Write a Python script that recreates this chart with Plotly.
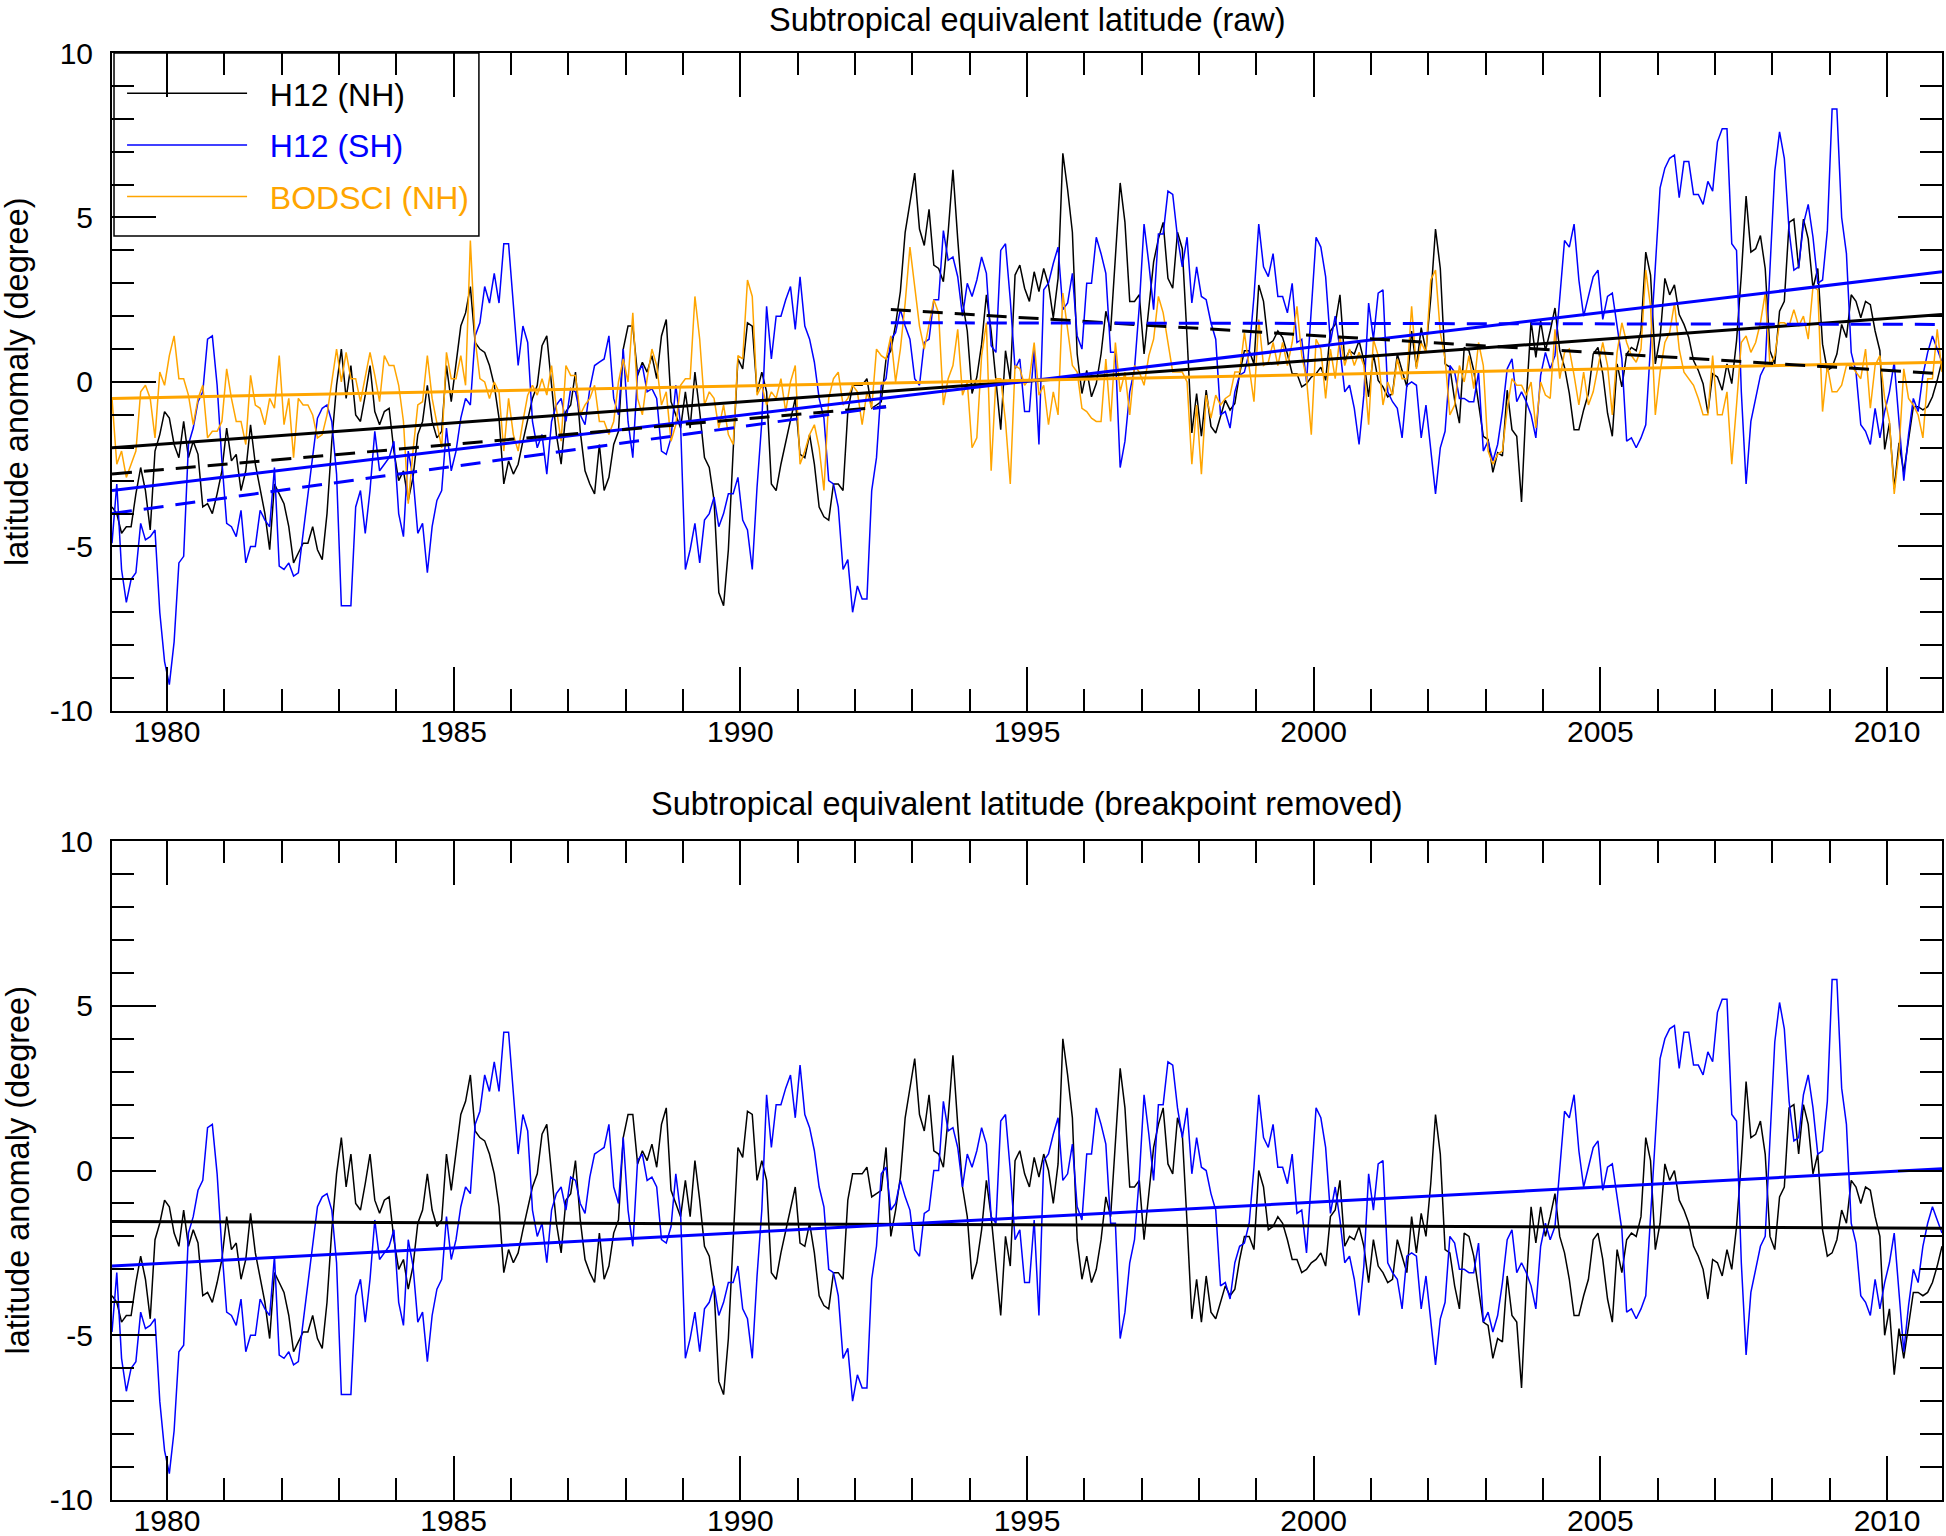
import numpy as np
import plotly.graph_objects as go

FONT = "Liberation Sans, Arial, Helvetica, sans-serif"

# ---------------- data (monthly, Jan 1979 - Dec 2010) ----------------
START_YEAR = 1979
BREAK_INDEX = 163          # first month after the 1992 breakpoint
NH_SHIFT = 2.95            # breakpoint jump, H12 (NH)
SH_SHIFT = 2.5             # breakpoint jump, H12 (SH)

# H12 (NH), breakpoint removed
h12_nh_bp = [
    -3.8, -4.0, -4.6, -4.4, -4.4, -3.4, -2.6, -3.3, -4.5, -2.1,
    -1.6, -0.9, -1.1, -1.9, -2.3, -1.2, -2.3, -1.8, -2.2, -3.8,
    -3.7, -4.0, -3.4, -2.7, -1.4, -2.4, -2.2, -3.3, -2.7, -1.3,
    -2.5, -3.2, -4.0, -5.1, -3.1, -3.4, -3.7, -4.4, -5.5, -5.2,
    -4.9, -4.9, -4.4, -5.1, -5.4, -4.0, -1.8, -0.1, 1.0, -0.5,
    0.5, -1.0, -1.2, -0.4, 0.5, -0.9, -1.3, -0.9, -0.8, -2.1,
    -3.0, -2.7, -3.6, -2.9, -1.6, -1.2, -0.1, -1.2, -1.7, -1.5,
    0.5, -0.6, 0.5, 1.7, 2.1, 2.9, 1.2, 1.0, 0.9, 0.5,
    -0.1, -1.1, -3.1, -2.4, -2.8, -2.5, -1.8, -1.1, -0.5, -0.1,
    1.1, 1.4, -0.2, -1.6, -2.5, -0.9, -0.7, 0.3, -1.5, -2.7,
    -3.1, -3.4, -1.9, -3.3, -2.9, -1.9, -1.5, 1.0, 1.7, 1.7,
    0.2, 0.6, 0.3, 0.8, 0.1, 1.4, 1.9, -0.6, -1.0, -1.4,
    -0.3, -1.4, 0.3, -0.9, -2.3, -2.6, -3.6, -6.4, -6.8, -5.1,
    -2.1, 0.7, 0.4, 1.8, 1.7, -0.3, 0.3, -0.3, -3.1, -3.3,
    -2.5, -1.8, -1.2, -0.5, -2.2, -2.3, -1.6, -2.5, -3.8, -4.1,
    -4.2, -3.1, -3.1, -3.3, -0.9, -0.1, -0.1, -0.1, 0.1, -0.8,
    -0.7, -0.6, 0.7, -2.0, -1.2, -0.2, 1.6, 2.5, 3.4, 1.7,
    1.2, 2.3, 0.6, 0.5, 0.1, 1.6, 3.5, 1.4, -0.5, -1.4,
    -3.3, -2.8, -1.8, -0.3, -1.4, -2.9, -4.4, -2.0, -2.9, 0.3,
    0.6, -0.1, -0.5, 0.4, -0.2, 0.5, 0.0, -1.0, 0.2, 4.0,
    2.9, 1.6, -2.1, -3.3, -2.6, -3.4, -3.0, -2.1, -0.8, -1.4,
    0.7, 3.1, 1.9, -0.5, -0.5, -0.3, -2.1, -0.7, 0.7, 1.4,
    1.9, 0.2, -0.1, 1.6, 1.1, -1.6, -4.5, -3.3, -4.6, -3.2,
    -4.3, -4.5, -4.0, -3.5, -3.8, -3.6, -2.7, -2.0, -2.0, -2.4,
    0.0, -0.5, -1.8, -1.7, -1.4, -1.6, -2.1, -2.7, -2.7, -3.1,
    -3.0, -2.8, -2.7, -2.5, -2.9, -1.4, -1.2, -0.3, -2.3, -2.0,
    -2.1, -1.7, -2.3, -3.4, -2.1, -2.9, -3.1, -3.4, -3.3, -2.1,
    -2.6, -3.1, -1.4, -2.5, -1.3, -2.0, -0.4, 1.7, 0.5, -2.4,
    -2.5, -3.5, -4.2, -1.9, -2.0, -2.6, -3.6, -4.6, -4.7, -5.7,
    -5.1, -5.2, -3.2, -4.4, -4.6, -6.6, -3.5, -1.1, -2.2, -1.1,
    -2.0, -1.4, -0.7, -2.0, -2.5, -3.3, -4.4, -4.4, -3.8, -3.3,
    -2.1, -1.9, -2.7, -3.9, -4.6, -2.4, -3.1, -2.1, -1.9, -2.0,
    -1.4, 1.0, 0.3, -2.4, -1.6, 0.2, -0.3, 0.0, -0.9, -1.2,
    -1.6, -2.3, -2.6, -3.0, -3.9, -2.7, -2.8, -3.2, -2.4, -3.0,
    -1.7, 0.3, 2.7, 1.0, 1.1, 1.5, 0.5, -2.0, -2.4, -0.8,
    -0.5, 1.9, 2.0, 0.5, 2.0, 1.4, -0.1, 0.5, -1.8, -2.6,
    -2.5, -2.1, -1.2, -1.6, -0.3, -0.5, -1.0, -0.5, -0.6, -1.4,
    -2.0, -5.0, -4.2, -6.2, -4.8, -5.7, -4.7, -3.7, -3.7, -3.8,
    -3.7, -3.4, -2.9, -2.3,
]

# H12 (SH), breakpoint removed
h12_sh_bp = [
    -4.9, -3.1, -5.7, -6.7, -6.0, -5.8, -4.3, -4.8, -4.7, -4.5,
    -7.0, -8.5, -9.2, -7.9, -5.5, -5.3, -1.9, -1.4, -0.6, -0.3,
    1.3, 1.4, -0.1, -2.4, -4.3, -4.4, -4.7, -3.9, -5.5, -5.0,
    -5.0, -3.9, -4.2, -4.4, -2.6, -5.6, -5.7, -5.5, -5.9, -5.8,
    -4.6, -3.4, -2.2, -1.1, -0.8, -0.7, -1.2, -2.8, -6.8, -6.8,
    -6.8, -3.8, -3.3, -4.6, -3.3, -1.5, -2.7, -2.5, -2.3, -1.8,
    -4.0, -4.7, -2.1, -2.9, -4.6, -4.3, -5.8, -4.4, -3.6, -3.3,
    -1.4, -2.7, -2.1, -1.1, -0.5, -0.7, 1.4, 1.8, 2.9, 2.4,
    3.3, 2.4, 4.2, 4.2, 2.4, 0.5, 1.7, 1.2, -1.2, -2.0,
    -1.6, -2.8, -1.2, -0.7, -0.5, -1.2, -0.2, -0.3, -1.0, -1.3,
    -0.2, 0.5, 0.6, 0.7, 1.4, -0.5, -1.0, 1.0, -1.2, -2.3,
    0.3, 0.5, -0.3, -0.2, -0.5, -2.1, -2.2, -1.7, -0.1, -1.3,
    -5.7, -5.1, -4.3, -5.5, -4.2, -4.0, -3.5, -4.4, -4.0, -3.4,
    -3.4, -2.9, -4.2, -4.5, -5.7, -3.2, -1.2, 2.3, 0.7, 2.0,
    2.0, 2.5, 2.9, 1.6, 3.2, 1.7, 1.3, 0.6, -0.5, -1.1,
    -3.0, -3.1, -3.8, -5.7, -5.4, -7.0, -6.2, -6.6, -6.6, -3.3,
    -2.3, -0.1, 0.1, -1.2, -1.0, -0.3, -0.8, -1.2, -2.4, -2.6,
    -1.3, -1.2, 0.0, 0.0, 2.1, 1.2, 1.3, 0.7, -0.5, 0.5,
    0.1, 0.6, 1.3, 0.8, -1.4, -1.6, 1.5, 1.7, 0.0, -2.1,
    -1.8, -3.4, -3.4, -1.5, -4.4, 0.3, 0.5, 1.1, 1.6, -0.3,
    -0.1, 0.8, -1.1, -1.5, 0.5, 0.5, 1.9, 1.4, 0.8, -1.6,
    -1.6, -5.1, -4.3, -2.8, -2.1, -0.2, 2.3, 1.1, -0.3, 2.0,
    2.0, 3.3, 3.2, 1.9, 1.0, 1.9, -0.1, 1.0, 0.1, 0.0,
    -0.7, -1.2, -3.5, -3.4, -3.9, -2.8, -2.3, -2.2, -1.6, 0.1,
    2.3, 1.0, 0.7, 1.4, 0.1, 0.1, -0.4, 0.5, -1.3, -1.2,
    -2.5, -0.2, 1.9, 1.6, 0.7, -1.3, -0.5, -1.5, -2.8, -2.6,
    -3.3, -4.4, -2.9, -0.1, -1.2, 0.2, 0.3, -2.8, -3.1, -3.3,
    -4.2, -2.6, -2.5, -2.6, -4.2, -3.2, -4.5, -5.9, -4.5, -4.0,
    -2.0, -2.2, -3.0, -3.0, -3.1, -3.1, -2.2, -4.6, -4.3, -4.9,
    -4.4, -3.4, -2.1, -1.8, -3.1, -2.8, -3.1, -3.5, -4.2, -2.3,
    -1.6, -2.1, -1.7, 0.1, 1.8, 1.6, 2.3, 0.6, -0.5, 0.1,
    0.7, 0.9, -0.6, 0.1, 0.2, -0.8, -1.8, -4.3, -4.2, -4.5,
    -4.2, -3.8, -1.2, 1.0, 3.4, 4.0, 4.3, 4.4, 3.1, 4.2,
    4.2, 3.2, 3.2, 2.9, 3.6, 3.3, 4.8, 5.2, 5.2, 1.7,
    1.5, -2.8, -5.6, -3.7, -3.0, -2.3, -2.0, 0.8, 3.9, 5.1,
    4.3, 2.1, 0.9, 1.0, 2.3, 2.9, 1.9, 0.5, 0.6, 2.1,
    5.8, 5.8, 2.5, 1.4, -1.6, -2.2, -3.8, -4.0, -4.4, -3.3,
    -4.2, -3.4, -2.8, -1.9, -3.6, -5.5, -4.1, -3.0, -3.4, -2.3,
    -1.6, -1.1, -1.5, -1.9,
]

# BODSCI (NH), raw
bodsci_nh = [
    -0.5, -2.5, -2.1, -2.9, -2.5, -2.1, -0.3, -0.1, -0.5, -1.7,
    0.3, -0.1, 0.8, 1.4, 0.1, 0.1, -0.4, -1.3, -0.5, -0.1,
    -1.7, -1.5, -1.5, -1.2, 0.4, -0.5, -1.2, -1.2, -1.9, 0.2,
    -0.7, -0.8, -1.3, -0.5, -0.8, 0.8, -1.3, -0.5, -2.3, -0.5,
    -0.7, -0.7, -1.0, -1.7, -1.6, -1.0, 0.0, 1.0, 0.0, 0.9,
    0.1, 0.1, -0.6, 0.1, 0.9, 0.2, -0.6, 0.8, 0.5, 0.5,
    -0.1, -1.2, -3.7, -2.1, -0.7, -0.6, 0.8, -0.5, -1.3, -2.0,
    0.9, 0.1, 0.1, 0.8, -0.1, 4.3, 1.3, 0.1, 0.0, -0.5,
    0.0, -0.3, -2.1, -0.5, -1.6, -2.1, -1.2, -0.4, -0.1, -0.4,
    0.1, -0.4, 0.5, -0.8, -1.8, 0.5, 0.2, 0.2, -1.0, -0.7,
    -0.5, -0.1, -1.2, -1.2, -1.6, -1.2, 0.0, 0.7, 0.0, 2.1,
    -0.5, -1.0, 0.1, 1.0, 0.5, -0.7, -0.3, -1.8, -1.3, -0.1,
    0.1, 0.1, 2.6, 1.3, -0.7, -0.3, -0.5, -1.4, -0.7, -1.6,
    -1.9, 0.8, 0.7, 3.1, 2.6, -0.4, -0.1, -0.7, -0.3, -0.5,
    0.1, -0.9, 0.0, 0.5, -2.5, -2.1, -1.6, -1.3, -2.0, -3.3,
    -0.5, 0.1, 0.3, -0.7, -0.5, -0.1, -0.3, -1.3, -0.3, -0.8,
    1.0, 0.8, 0.7, 1.4, 0.0, 1.0, 2.4, 4.1, 2.9, 1.7,
    1.0, 1.8, 2.5, 2.1, -0.7, 0.1, 0.5, 1.6, -0.4, 0.0,
    -2.0, -1.7, 0.8, 1.8, -2.7, 0.1, 0.1, -1.2, -3.1, 0.5,
    0.4, -0.1, 0.1, 1.2, -0.4, -0.1, -1.3, -0.3, -1.0, 2.7,
    1.6, 0.5, 0.3, -0.8, -0.9, -1.1, -1.2, -1.2, 0.7, -1.2,
    1.2, -0.3, 0.3, -1.0, 0.5, 0.3, -0.1, 0.8, 1.3, 2.6,
    2.1, 1.2, 0.3, 0.3, 0.3, 0.0, -2.5, -0.7, -2.8, -0.4,
    -1.1, -0.4, -0.7, -0.5, -0.4, 0.3, 0.3, 1.5, 0.4, -0.6,
    1.9, 0.5, 0.6, 1.2, 0.5, 1.2, 0.5, 1.2, 2.3, 0.8,
    0.1, -1.6, 1.3, 1.0, -0.5, 1.0, 0.1, 1.4, 0.5, 1.0,
    0.5, 0.9, 0.5, -1.3, 1.3, 0.8, -0.7, 0.0, -0.4, 0.7,
    0.1, 0.1, 2.3, 0.4, 1.2, 0.9, 3.1, 3.4, 1.5, 0.7,
    -1.0, -0.7, 0.5, 0.0, 0.8, -0.2, 1.2, 0.5, -2.1, -2.5,
    -2.2, -2.1, -0.8, 0.1, -0.1, -0.1, -0.4, 0.0, -1.4, 0.0,
    -0.4, -0.5, 1.6, 0.1, 0.9, 1.0, 0.2, -0.7, 0.3, -0.7,
    -0.3, 0.5, 1.2, 0.5, -1.0, 0.9, 1.8, 1.2, 0.8, 0.6,
    1.0, 3.4, 2.3, -1.0, 0.3, 1.2, 1.5, 2.4, 1.0, 0.3,
    0.1, -0.1, -0.5, -1.0, -1.0, 0.8, -1.0, -1.0, -0.3, -2.5,
    -0.7, 1.2, 1.4, 0.9, 1.2, 1.8, 2.7, 0.5, 0.8, 1.8,
    1.8, 1.7, 2.2, 1.7, 2.0, 1.3, 2.9, 2.8, -0.9, 0.5,
    -0.3, -0.3, -0.1, 0.5, 0.5, 0.3, 0.1, 1.0, -0.8, 0.5,
    0.8, -0.5, -1.2, -3.4, -2.1, 0.4, -0.5, -0.7, -1.0, -1.7,
    0.1, 0.1, 1.6, 0.3,
]

# linear trends (start value, end value)
nh_trend_raw = [-2.0, 2.05]
sh_trend_raw = [-3.3, 3.35]
bodsci_trend = [-0.5, 0.6]
nh_pre_trend = [-2.8, -0.75]
nh_post_trend = [2.2, 0.25]
sh_pre_trend = [-4.0, -0.75]
sh_post_trend = [1.8, 1.75]
nh_trend_bp = [-1.55, -1.75]
sh_trend_bp = [-2.9, 0.05]

YEAR_TICKS = [1980, 1985, 1990, 1995, 2000, 2005, 2010]
Y_TICKS = [-10, -5, 0, 5, 10]
Y_TICK_TEXT = ["-10", "-5", "0", "5", "10"]

# ---------------- derived ----------------
n = len(h12_nh_bp)
idx = np.arange(n)
months = START_YEAR + (idx + 0.5) / 12.0
after = idx >= BREAK_INDEX
h12_nh_raw = np.array(h12_nh_bp) + np.where(after, NH_SHIFT, 0.0)
h12_sh_raw = np.array(h12_sh_bp) + np.where(after, SH_SHIFT, 0.0)

full_x = [months[0], months[-1]]
pre_x = [months[0], months[BREAK_INDEX - 1]]
post_x = [months[BREAK_INDEX], months[-1]]

BLACK = "#000000"
BLUE = "#0000ff"
ORANGE = "#ffa500"
DASH = "20px,12px"
GAP = "&nbsp;&nbsp;"

fig = go.Figure()

# top panel data
fig.add_trace(go.Scatter(x=months, y=h12_nh_raw, mode="lines", line=dict(color=BLACK, width=1.5),
                         name=GAP + "H12 (NH)", legendgroup="a", xaxis="x", yaxis="y"))
fig.add_trace(go.Scatter(x=months, y=h12_sh_raw, mode="lines", line=dict(color=BLUE, width=1.5),
                         name=GAP + '<span style="color:#0000ff">H12 (SH)</span>', legendgroup="b",
                         xaxis="x", yaxis="y"))
fig.add_trace(go.Scatter(x=months, y=bodsci_nh, mode="lines", line=dict(color=ORANGE, width=1.5),
                         name=GAP + '<span style="color:#ffa500">BODSCI (NH)</span>', legendgroup="c",
                         xaxis="x", yaxis="y"))

# top panel trends
for xs, ys, col, dash in [
    (full_x, nh_trend_raw, BLACK, "solid"),
    (full_x, sh_trend_raw, BLUE, "solid"),
    (full_x, bodsci_trend, ORANGE, "solid"),
    (pre_x, nh_pre_trend, BLACK, DASH),
    (post_x, nh_post_trend, BLACK, DASH),
    (pre_x, sh_pre_trend, BLUE, DASH),
    (post_x, sh_post_trend, BLUE, DASH),
]:
    fig.add_trace(go.Scatter(x=xs, y=ys, mode="lines", line=dict(color=col, width=3, dash=dash),
                             showlegend=False, xaxis="x", yaxis="y", hoverinfo="skip"))

# bottom panel
fig.add_trace(go.Scatter(x=months, y=h12_nh_bp, mode="lines", line=dict(color=BLACK, width=1.5),
                         showlegend=False, xaxis="x2", yaxis="y2"))
fig.add_trace(go.Scatter(x=months, y=h12_sh_bp, mode="lines", line=dict(color=BLUE, width=1.5),
                         showlegend=False, xaxis="x2", yaxis="y2"))
for xs, ys, col in [(full_x, nh_trend_bp, BLACK), (full_x, sh_trend_bp, BLUE)]:
    fig.add_trace(go.Scatter(x=xs, y=ys, mode="lines", line=dict(color=col, width=3),
                             showlegend=False, xaxis="x2", yaxis="y2", hoverinfo="skip"))

TICKFONT = dict(family=FONT, size=30, color="black")
TITLEFONT = dict(family=FONT, size=32.5, color="black")
minor_x = dict(tickmode="linear", tick0=1979, dtick=1, ticks="inside", ticklen=22,
               tickwidth=1.5, tickcolor="black")
minor_y = dict(tickmode="linear", tick0=0, dtick=1, ticks="inside", ticklen=22,
               tickwidth=1.5, tickcolor="black")


def xax(anchor):
    return dict(anchor=anchor, domain=[0, 1], range=[months[0], months[-1]],
                tickmode="array", tickvals=YEAR_TICKS, ticktext=[str(t) for t in YEAR_TICKS],
                ticks="inside", ticklen=44, tickwidth=1.5, tickcolor="black",
                minor=minor_x, showline=True, linecolor="black", linewidth=2,
                mirror="ticks", showgrid=False, zeroline=False, tickfont=TICKFONT,
                ticklabelstandoff=-7, automargin=False)


def yax(anchor, dom):
    return dict(anchor=anchor, domain=dom, range=[-10, 10],
                tickmode="array", tickvals=Y_TICKS, ticktext=Y_TICK_TEXT,
                ticks="inside", ticklen=44, tickwidth=1.5, tickcolor="black",
                minor=minor_y, showline=True, linecolor="black", linewidth=2,
                mirror="ticks", showgrid=False, zeroline=False, tickfont=TICKFONT,
                ticklabelstandoff=11, automargin=False)


TOP_DOM = [0.5453, 1.0]
BOT_DOM = [0.0, 0.4554]

annotations = [
    dict(text="Subtropical equivalent latitude (raw)", x=0.5, y=1.0228, xref="paper", yref="paper",
         xanchor="center", yanchor="middle", showarrow=False, font=TITLEFONT),
    dict(text="Subtropical equivalent latitude (breakpoint removed)", x=0.5, y=0.481, xref="paper",
         yref="paper", xanchor="center", yanchor="middle", showarrow=False, font=TITLEFONT),
    dict(text="latitude anomaly (degree)", x=-0.0519, y=0.5, xref="paper", yref="y domain",
         xanchor="center", yanchor="middle", textangle=-90, showarrow=False, font=TITLEFONT),
    dict(text="latitude anomaly (degree)", x=-0.0519, y=0.5, xref="paper", yref="y2 domain",
         xanchor="center", yanchor="middle", textangle=-90, showarrow=False, font=TITLEFONT),
]

# legend frame (decoration)
shapes = [
    dict(type="rect", xref="x domain", yref="y domain", x0=0.0011, x1=0.2005, y0=0.7219, y1=1.0,
         fillcolor="white", line=dict(color="black", width=1.5), layer="below"),
]

fig.update_layout(
    width=1946, height=1536,
    margin=dict(l=112, r=4, t=53, b=36),
    paper_bgcolor="white", plot_bgcolor="white",
    font=dict(family=FONT, size=30, color="black"),
    xaxis=xax("y"), yaxis=yax("x", TOP_DOM),
    xaxis2=xax("y2"), yaxis2=yax("x2", BOT_DOM),
    showlegend=True,
    legend=dict(x=0.0055, y=0.991, xanchor="left", yanchor="top", bgcolor="rgba(0,0,0,0)",
                borderwidth=0, font=dict(family=FONT, size=32, color="black"),
                itemwidth=120, tracegroupgap=7, traceorder="grouped"),
    annotations=annotations,
    shapes=shapes,
    hovermode=False,
)

fig.write_html("out.html", config={"displayModeBar": False},
               post_script="document.body.style.margin='0px';")
